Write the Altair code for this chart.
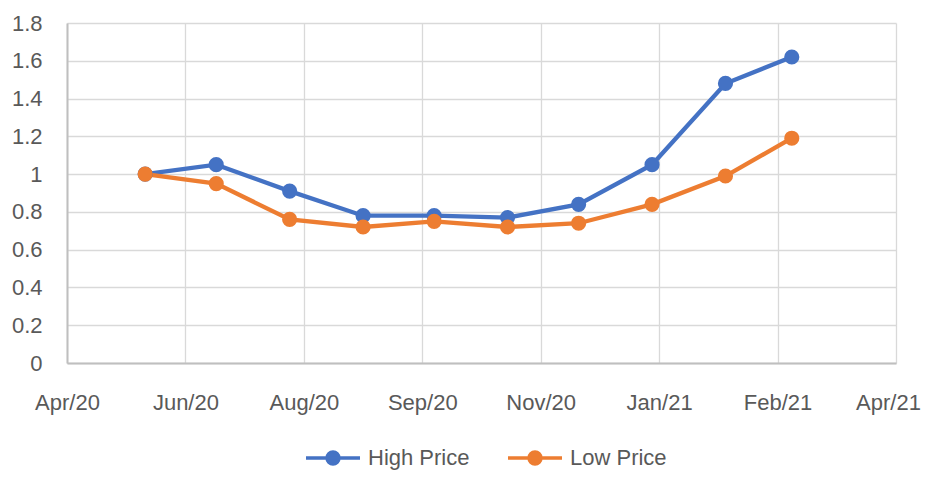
import altair as alt
import pandas as pd

dates = ["2020-05-31", "2020-06-30", "2020-07-31", "2020-08-31", "2020-09-30",
         "2020-10-31", "2020-11-30", "2020-12-31", "2021-01-31", "2021-02-28"]
high_price = [1.0, 1.05, 0.91, 0.78, 0.78, 0.77, 0.84, 1.05, 1.48, 1.62]
low_price = [1.0, 0.95, 0.76, 0.72, 0.75, 0.72, 0.74, 0.84, 0.99, 1.19]
series_names = ["High Price", "Low Price"]
series_colors = ["#4472C4", "#ED7D31"]

# x-axis tick dates (labels Apr/20 ... Apr/21)
tick_dates = [(2020, 4, 28), (2020, 6, 17), (2020, 8, 6), (2020, 9, 25),
              (2020, 11, 14), (2021, 1, 3), (2021, 2, 22), (2021, 4, 13)]
y_ticks = [0, 0.2, 0.4, 0.6, 0.8, 1, 1.2, 1.4, 1.6, 1.8]

rows = []
for d, v in zip(dates, high_price):
    rows.append({"date": d, "value": v, "series": series_names[0]})
for d, v in zip(dates, low_price):
    rows.append({"date": d, "value": v, "series": series_names[1]})
df = pd.DataFrame(rows)

tick_dt = [alt.DateTime(year=y, month=m, date=dd, utc=True) for y, m, dd in tick_dates]

FONT = "Liberation Sans"
TXT = "#595959"

x_enc = alt.X("date:T",
              scale=alt.Scale(type="utc", domain=[tick_dt[0], tick_dt[-1]]),
              axis=alt.Axis(values=tick_dt, format="%b/%y", title=None,
                            ticks=False, tickSize=0, labelPadding=29,
                            grid=True, gridColor="#d9d9d9", gridWidth=1.3,
                            domainColor="#bfbfbf", domainWidth=2,
                            labelFont=FONT, labelFontSize=22, labelColor=TXT,
                            labelBaseline="top", labelFlush=False,
                            labelOffset=alt.condition("datum.index == 1",
                                                      alt.value(-8), alt.value(0))))
y_enc = alt.Y("value:Q",
              scale=alt.Scale(domain=[0, 1.8], nice=False),
              axis=alt.Axis(values=y_ticks, format="~g", title=None,
                            ticks=False, tickSize=0, labelPadding=25,
                            grid=True, gridColor="#d9d9d9", gridWidth=1.3,
                            domainColor="#bfbfbf", domainWidth=2,
                            labelFont=FONT, labelFontSize=22, labelColor=TXT))

sc = alt.Scale(domain=series_names, range=series_colors)
legend_path = ("M-1,0L1,0M0.22,0A0.22,0.22,0,1,1,-0.22,0"
               "A0.22,0.22,0,1,1,0.22,0Z")

leg = alt.Legend(title=None, orient="none", legendX=237, legendY=406,
                 direction="horizontal", symbolType=legend_path,
                 symbolSize=2916, symbolStrokeWidth=3.5, labelOffset=6,
                 columnPadding=31, padding=0,
                 labelFont=FONT, labelFontSize=22, labelColor=TXT)

lines = alt.Chart(df).mark_line().encode(
    x=x_enc, y=y_enc,
    color=alt.Color("series:N", scale=sc, legend=leg),
    strokeWidth=alt.value(4.3),
)

points = alt.Chart(df).mark_point(filled=True, opacity=1).encode(
    x=x_enc, y=y_enc,
    color=alt.Color("series:N", scale=sc),
    size=alt.value(230),
)

chart = alt.layer(lines, points).properties(
    width=829, height=340,
    background="white",
    autosize=alt.AutoSizeParams(type="none"),
    padding={"left": 59, "top": 15, "right": 25, "bottom": 110},
).configure_view(stroke=None)

chart.save("out.html", embed_options={"renderer": "svg", "actions": False})
